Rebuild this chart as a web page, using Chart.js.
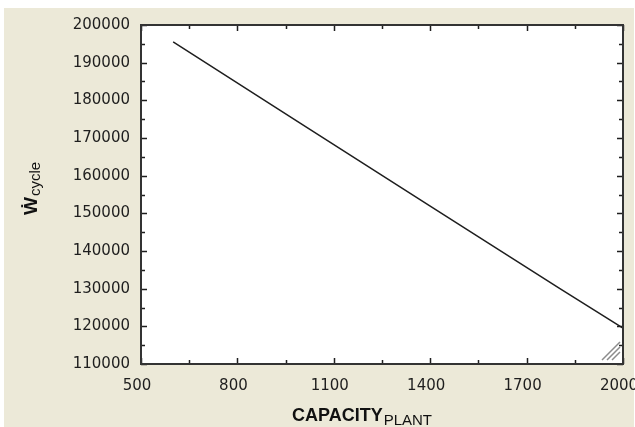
<!DOCTYPE html>
<html lang="en">
<head>
<meta charset="UTF-8">
<title>W cycle vs capacity</title>
<script src="https://cdn.jsdelivr.net/npm/chart.js"></script>
<style>
    html, body { margin: 0; padding: 0; background: #ffffff; }
    canvas { display: block; }
</style>
</head>
<body>
<canvas id="chart" width="635" height="427"></canvas>
<script>
    // values
    const capacity = [600, 1000, 1400, 1800, 2000];
    const wCycle = [195500, 173700, 151900, 130200, 119500];
    const xTicks = [500, 800, 1100, 1400, 1700, 2000];
    const yTicks = [110000, 120000, 130000, 140000, 150000, 160000, 170000, 180000, 190000, 200000];

    const beige = '#ece9d8';
    const ink = '#1e1e1e';

    // background, frame, inward ticks, axis titles with subscripts
    const decor = {
        id: 'decor',
        beforeDraw(chart) {
            const c = chart.ctx, a = chart.chartArea;
            c.save();
            c.fillStyle = beige;
            c.fillRect(4, 8, 630, 419);
            c.fillStyle = '#ffffff';
            c.fillRect(a.left, a.top, a.right - a.left, a.bottom - a.top);
            c.restore();
        },
        afterDraw(chart) {
            const c = chart.ctx, a = chart.chartArea;
            const xs = chart.scales.x, ys = chart.scales.y;
            c.save();
            c.strokeStyle = ink;
            c.lineWidth = 1.5;
            c.beginPath();
            // x ticks, major + minor, bottom and top
            for (let i = 0; i < xTicks.length; i++) {
                const px = Math.round(xs.getPixelForValue(xTicks[i])) + 0.5;
                c.moveTo(px, a.bottom); c.lineTo(px, a.bottom - 6);
                c.moveTo(px, a.top); c.lineTo(px, a.top + 6);
                if (i < xTicks.length - 1) {
                    const mx = Math.round(xs.getPixelForValue((xTicks[i] + xTicks[i + 1]) / 2)) + 0.5;
                    c.moveTo(mx, a.bottom); c.lineTo(mx, a.bottom - 4);
                    c.moveTo(mx, a.top); c.lineTo(mx, a.top + 4);
                }
            }
            for (let i = 0; i < yTicks.length; i++) {
                const py = Math.round(ys.getPixelForValue(yTicks[i])) + 0.5;
                c.moveTo(a.left, py); c.lineTo(a.left + 6, py);
                c.moveTo(a.right, py); c.lineTo(a.right - 6, py);
                if (i < yTicks.length - 1) {
                    const my = Math.round(ys.getPixelForValue((yTicks[i] + yTicks[i + 1]) / 2)) + 0.5;
                    c.moveTo(a.left, my); c.lineTo(a.left + 4, my);
                    c.moveTo(a.right, my); c.lineTo(a.right - 4, my);
                }
            }
            c.stroke();
            c.strokeStyle = '#333333';
            c.lineWidth = 2;
            c.strokeRect(a.left, a.top, a.right - a.left, a.bottom - a.top);

            // resize grip in the corner
            c.strokeStyle = '#8c8c8c';
            c.lineWidth = 1.5;
            c.beginPath();
            c.moveTo(602, 360); c.lineTo(620, 342);
            c.moveTo(607, 360); c.lineTo(620, 347);
            c.moveTo(612, 360); c.lineTo(620, 352);
            c.stroke();

            // x title
            c.fillStyle = '#111111';
            c.textBaseline = 'alphabetic';
            c.textAlign = 'left';
            c.font = 'bold 18px "Liberation Sans", Arial, sans-serif';
            const main = 'CAPACITY';
            c.fillText(main, 292, 421);
            const w = c.measureText(main).width;
            c.font = '15px "Liberation Sans", Arial, sans-serif';
            c.fillText('PLANT', 292 + w + 1, 425);

            // y title (rotated)
            c.translate(37, 215);
            c.rotate(-Math.PI / 2);
            c.font = 'bold 19px "Liberation Sans", Arial, sans-serif';
            c.fillText('Ẇ', 0, 0);
            const ww = c.measureText('Ẇ').width;
            c.font = '15px "Liberation Sans", Arial, sans-serif';
            c.fillText('cycle', ww + 1, 3);
            c.restore();
        }
    };

    const points = capacity.map((x, i) => ({ x: x, y: wCycle[i] }));

    new Chart(document.getElementById('chart'), {
        type: 'line',
        data: {
            datasets: [{
                data: points,
                borderColor: ink,
                borderWidth: 1.5,
                pointRadius: 0,
                fill: false,
                tension: 0
            }]
        },
        options: {
            responsive: false,
            animation: false,
            events: [],
            layout: { padding: { top: 25, right: 12, left: 0, bottom: 0 } },
            plugins: { legend: { display: false }, tooltip: { enabled: false } },
            scales: {
                x: {
                    type: 'linear',
                    min: 500, max: 2000,
                    grid: { display: false, drawTicks: false },
                    border: { display: false },
                    afterBuildTicks(s) { s.ticks = xTicks.map(v => ({ value: v })); },
                    afterFit(s) { s.height = 63; s.paddingLeft = 0; s.paddingRight = 0; },
                    ticks: {
                        padding: 13,
                        labelOffset: -4,
                        maxRotation: 0,
                        autoSkip: false,
                        color: ink,
                        font: { family: '"DejaVu Sans"', size: 15 },
                        callback: v => String(v)
                    }
                },
                y: {
                    type: 'linear',
                    min: 110000, max: 200000,
                    grid: { display: false, drawTicks: false },
                    border: { display: false },
                    afterBuildTicks(s) { s.ticks = yTicks.map(v => ({ value: v })); },
                    afterFit(s) { s.width = 141; s.paddingTop = 0; s.paddingBottom = 0; },
                    ticks: {
                        padding: 11,
                        autoSkip: false,
                        color: ink,
                        font: { family: '"DejaVu Sans"', size: 15 },
                        callback: v => String(v)
                    }
                }
            }
        },
        plugins: [decor]
    });
</script>
</body>
</html>
